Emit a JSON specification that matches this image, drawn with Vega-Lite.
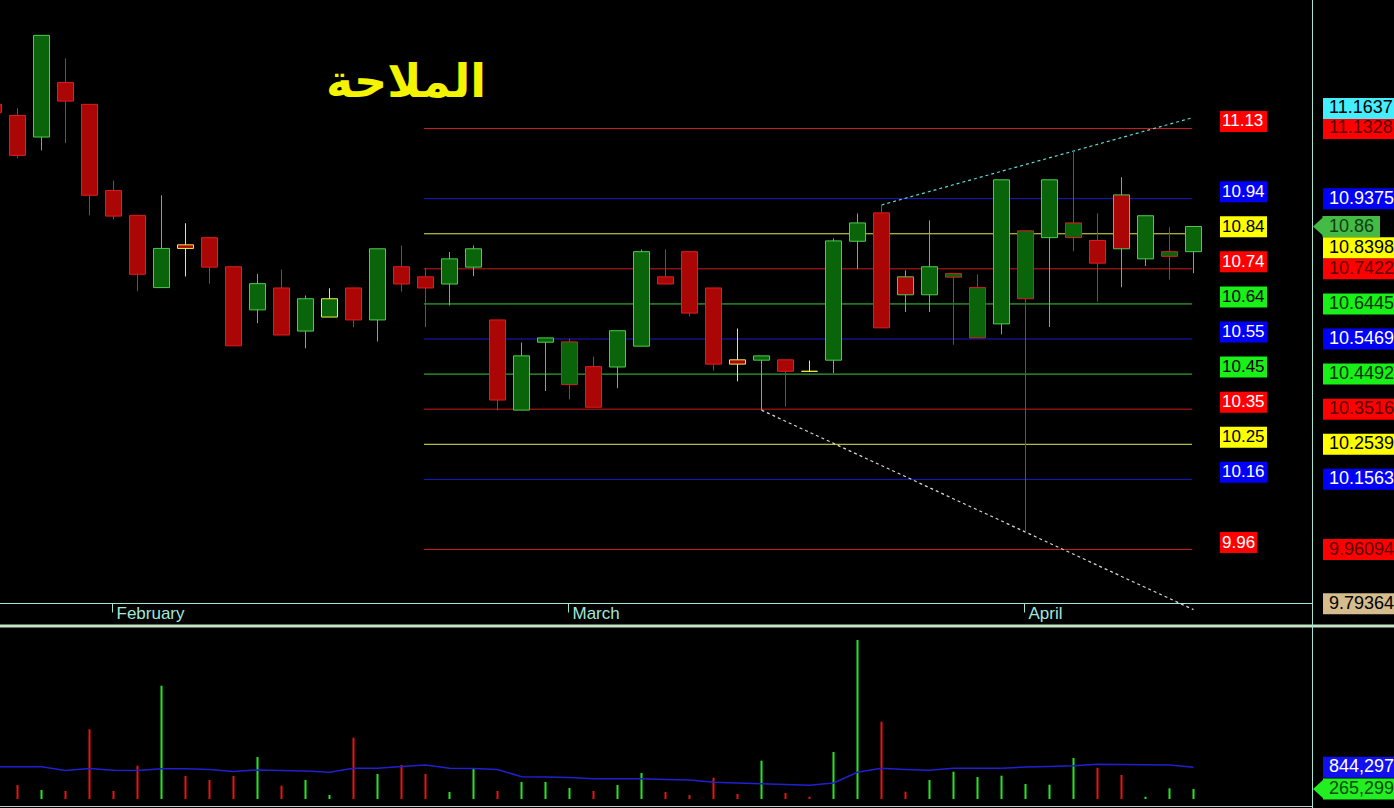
{
"$schema":"https://vega.github.io/schema/vega-lite/v6.json",
"width":1394,"height":808,
"autosize":{"type":"none"},
"padding":0,
"background":"#000000",
"config":{"view":{"stroke":null},"text":{"font":"Liberation Sans"},"scale":{"continuousPadding":0}},
"resolve":{"scale":{"y":"independent","color":"independent","fill":"independent","stroke":"independent"}},
"datasets":{
"one":[{}],
"candles":[
{"i":-1,"o":11.200,"h":11.215,"l":11.170,"c":11.177,"d":"down","e":"down","v":400000,"ma":857000},
{"i":0,"o":11.169,"h":11.189,"l":11.050,"c":11.058,"d":"down","e":"down","v":371000,"ma":857000},
{"i":1,"o":11.109,"h":11.392,"l":11.072,"c":11.392,"d":"up","e":"up","v":239000,"ma":857000},
{"i":2,"o":11.261,"h":11.328,"l":11.092,"c":11.209,"d":"down","e":"down","v":212000,"ma":756000},
{"i":3,"o":11.200,"h":11.200,"l":10.891,"c":10.947,"d":"down","e":"down","v":1849000,"ma":809000},
{"i":4,"o":10.960,"h":10.988,"l":10.880,"c":10.889,"d":"down","e":"down","v":212000,"ma":761000},
{"i":5,"o":10.891,"h":10.891,"l":10.680,"c":10.727,"d":"down","e":"down","v":884000,"ma":756000},
{"i":6,"o":10.690,"h":10.947,"l":10.690,"c":10.799,"d":"up","e":"up","v":3006000,"ma":804000},
{"i":7,"o":10.809,"h":10.869,"l":10.721,"c":10.799,"d":"down","e":"flat","v":610000,"ma":804000},
{"i":8,"o":10.829,"h":10.829,"l":10.701,"c":10.747,"d":"down","e":"down","v":504000,"ma":783000},
{"i":9,"o":10.748,"h":10.748,"l":10.528,"c":10.528,"d":"down","e":"down","v":610000,"ma":730000},
{"i":10,"o":10.628,"h":10.728,"l":10.591,"c":10.701,"d":"up","e":"up","v":1114000,"ma":769000},
{"i":11,"o":10.689,"h":10.740,"l":10.558,"c":10.558,"d":"down","e":"down","v":353000,"ma":756000},
{"i":12,"o":10.569,"h":10.668,"l":10.521,"c":10.659,"d":"up","e":"up","v":504000,"ma":743000},
{"i":13,"o":10.608,"h":10.688,"l":10.608,"c":10.659,"d":"up","e":"flat","v":106000,"ma":708000},
{"i":14,"o":10.689,"h":10.689,"l":10.580,"c":10.600,"d":"down","e":"down","v":1627000,"ma":814000},
{"i":15,"o":10.600,"h":10.798,"l":10.540,"c":10.798,"d":"up","e":"up","v":663000,"ma":814000},
{"i":16,"o":10.748,"h":10.807,"l":10.679,"c":10.700,"d":"down","e":"down","v":902000,"ma":862000},
{"i":17,"o":10.720,"h":10.745,"l":10.580,"c":10.689,"d":"down","e":"down","v":663000,"ma":902000},
{"i":18,"o":10.700,"h":10.789,"l":10.640,"c":10.770,"d":"up","e":"up","v":186000,"ma":814000},
{"i":19,"o":10.747,"h":10.807,"l":10.722,"c":10.798,"d":"up","e":"up","v":804000,"ma":809000},
{"i":20,"o":10.600,"h":10.600,"l":10.348,"c":10.377,"d":"down","e":"down","v":212000,"ma":783000},
{"i":21,"o":10.349,"h":10.537,"l":10.349,"c":10.500,"d":"up","e":"up","v":451000,"ma":592000},
{"i":22,"o":10.538,"h":10.550,"l":10.402,"c":10.550,"d":"up","e":"up","v":451000,"ma":584000},
{"i":23,"o":10.420,"h":10.548,"l":10.379,"c":10.539,"d":"up","e":"down","v":292000,"ma":570000},
{"i":24,"o":10.470,"h":10.498,"l":10.357,"c":10.357,"d":"down","e":"down","v":212000,"ma":539000},
{"i":25,"o":10.469,"h":10.570,"l":10.410,"c":10.570,"d":"up","e":"up","v":371000,"ma":539000},
{"i":26,"o":10.527,"h":10.796,"l":10.527,"c":10.790,"d":"up","e":"up","v":690000,"ma":539000},
{"i":27,"o":10.720,"h":10.796,"l":10.700,"c":10.700,"d":"down","e":"down","v":186000,"ma":517000},
{"i":28,"o":10.790,"h":10.790,"l":10.610,"c":10.619,"d":"down","e":"down","v":106000,"ma":504000},
{"i":29,"o":10.689,"h":10.689,"l":10.459,"c":10.477,"d":"down","e":"down","v":565000,"ma":443000},
{"i":30,"o":10.489,"h":10.576,"l":10.429,"c":10.477,"d":"down","e":"flat","v":133000,"ma":424000},
{"i":31,"o":10.488,"h":10.500,"l":10.349,"c":10.500,"d":"up","e":"up","v":1016000,"ma":406000},
{"i":32,"o":10.489,"h":10.489,"l":10.359,"c":10.457,"d":"down","e":"down","v":159000,"ma":385000},
{"i":33,"o":10.457,"h":10.487,"l":10.457,"c":10.457,"d":"down","e":"flat","v":61000,"ma":363000},
{"i":34,"o":10.488,"h":10.827,"l":10.452,"c":10.820,"d":"up","e":"up","v":1247000,"ma":424000},
{"i":35,"o":10.819,"h":10.896,"l":10.742,"c":10.870,"d":"up","e":"up","v":4218000,"ma":708000},
{"i":36,"o":10.898,"h":10.920,"l":10.578,"c":10.578,"d":"down","e":"down","v":2051000,"ma":814000},
{"i":37,"o":10.720,"h":10.738,"l":10.622,"c":10.670,"d":"down","e":"up","v":194000,"ma":783000},
{"i":38,"o":10.670,"h":10.877,"l":10.622,"c":10.748,"d":"up","e":"up","v":504000,"ma":761000},
{"i":39,"o":10.719,"h":10.729,"l":10.531,"c":10.729,"d":"up","e":"down","v":724000,"ma":814000},
{"i":40,"o":10.550,"h":10.727,"l":10.550,"c":10.690,"d":"up","e":"down","v":584000,"ma":814000},
{"i":41,"o":10.589,"h":10.990,"l":10.560,"c":10.990,"d":"up","e":"up","v":618000,"ma":814000},
{"i":42,"o":10.659,"h":10.848,"l":10.009,"c":10.848,"d":"up","e":"down","v":398000,"ma":849000},
{"i":43,"o":10.829,"h":10.990,"l":10.580,"c":10.990,"d":"up","e":"up","v":379000,"ma":862000},
{"i":44,"o":10.829,"h":11.072,"l":10.791,"c":10.870,"d":"up","e":"down","v":1088000,"ma":883000},
{"i":45,"o":10.821,"h":10.897,"l":10.651,"c":10.758,"d":"down","e":"down","v":830000,"ma":921000},
{"i":46,"o":10.948,"h":10.997,"l":10.691,"c":10.798,"d":"down","e":"up","v":637000,"ma":915000},
{"i":47,"o":10.770,"h":10.890,"l":10.750,"c":10.890,"d":"up","e":"up","v":61000,"ma":910000},
{"i":48,"o":10.777,"h":10.858,"l":10.712,"c":10.790,"d":"up","e":"down","v":284000,"ma":902000},
{"i":49,"o":10.790,"h":10.860,"l":10.730,"c":10.860,"d":"up","e":"up","v":265299,"ma":844297}
],
"levels":[
{"p":11.1328,"k":"red"},{"p":10.9375,"k":"blue"},{"p":10.8398,"k":"yellow"},{"p":10.7422,"k":"red"},
{"p":10.6445,"k":"green"},{"p":10.5469,"k":"blue"},{"p":10.4492,"k":"green"},{"p":10.3516,"k":"red"},
{"p":10.2539,"k":"yellow"},{"p":10.1563,"k":"blue"},{"p":9.96094,"k":"red"}
],
"rl":[
{"p":11.1637,"t":"11.1637","k":"cyan"},{"p":11.1328,"t":"11.1328","k":"red"},{"p":10.9375,"t":"10.9375","k":"blue"},
{"p":10.8398,"t":"10.8398","k":"yellow"},{"p":10.7422,"t":"10.7422","k":"red"},{"p":10.6445,"t":"10.6445","k":"green"},
{"p":10.5469,"t":"10.5469","k":"blue"},{"p":10.4492,"t":"10.4492","k":"green"},{"p":10.3516,"t":"10.3516","k":"red"},
{"p":10.2539,"t":"10.2539","k":"yellow"},{"p":10.1563,"t":"10.1563","k":"blue"},{"p":9.96094,"t":"9.96094","k":"red"},
{"p":9.79364,"t":"9.79364","k":"tan"}
],
"trend":[
{"g":"up","i":36,"p":10.920},{"g":"up","i":49,"p":11.1637},
{"g":"dn","i":31,"p":10.349},{"g":"dn","i":49,"p":9.79364}
],
"months":[{"m":3.958,"t":"February"},{"m":22.958,"t":"March"},{"m":41.958,"t":"April"}]
},
"layer":[
{"data":{"name":"levels"},"mark":{"type":"rule","strokeWidth":1},
 "encoding":{"x":{"datum":16.9375,"type":"quantitative","scale":{"domain":[-0.72917,57.35417],"nice":false,"zero":false,"padding":0},"axis":null},"x2":{"datum":48.9375},
 "y":{"field":"p","type":"quantitative","scale":{"domain":[9.24162,11.49044],"nice":false,"zero":false},"axis":null},
 "color":{"field":"k","type":"nominal","scale":{"domain":["red","blue","yellow","green"],"range":["#cc1c1c","#1c1cc8","#e8e84c","#3ccc3c"]},"legend":null}}},
{"data":{"name":"trend"},"mark":{"type":"line","strokeWidth":1.2,"strokeDash":[3,3]},
 "encoding":{"x":{"field":"i","type":"quantitative","scale":{"domain":[-0.72917,57.35417],"nice":false,"zero":false,"padding":0},"axis":null},
 "y":{"field":"p","type":"quantitative","scale":{"domain":[9.24162,11.49044],"nice":false,"zero":false},"axis":null},
 "color":{"field":"g","type":"nominal","scale":{"domain":["up","dn"],"range":["#5fd8d8","#d8d8d8"]},"legend":null}}},
{"data":{"name":"candles"},"mark":{"type":"rule","strokeWidth":1},
 "encoding":{"x":{"field":"i","type":"quantitative","scale":{"domain":[-0.72917,57.35417],"nice":false,"zero":false,"padding":0},"axis":null},
 "y":{"field":"l","type":"quantitative","scale":{"domain":[9.24162,11.49044],"nice":false,"zero":false},"axis":null},"y2":{"field":"h"},
 "color":{"field":"e","type":"nominal","scale":{"domain":["up","down","flat"],"range":["#4ccc4c","#e01c1c","#f0f03c"]},"legend":null}}},
{"data":{"name":"candles"},"mark":{"type":"bar","size":16,"strokeWidth":1,"orient":"vertical"},
 "encoding":{"x":{"field":"i","type":"quantitative","scale":{"domain":[-0.72917,57.35417],"nice":false,"zero":false,"padding":0},"axis":null},
 "y":{"field":"o","type":"quantitative","scale":{"domain":[9.24162,11.49044],"nice":false,"zero":false,"padding":0},"axis":null},"y2":{"field":"c"},
 "fill":{"field":"d","type":"nominal","scale":{"domain":["up","down"],"range":["#0a640a","#aa0606"]},"legend":null},
 "stroke":{"field":"e","type":"nominal","scale":{"domain":["up","down","flat"],"range":["#4ccc4c","#e01c1c","#f0f03c"]},"legend":null}}},
{"data":{"name":"candles"},"mark":{"type":"rule","strokeWidth":2},
 "encoding":{"x":{"field":"i","type":"quantitative","scale":{"domain":[-0.72917,57.35417],"nice":false,"zero":false,"padding":0},"axis":null},
 "y":{"field":"v","type":"quantitative","scale":{"domain":[-238770,21197470],"nice":false,"zero":false},"axis":null},"y2":{"datum":0},
 "color":{"field":"d","type":"nominal","scale":{"domain":["up","down"],"range":["#22e822","#e81414"]},"legend":null}}},
{"data":{"name":"candles"},"mark":{"type":"line","color":"#2020d0","strokeWidth":1.5},
 "encoding":{"x":{"field":"i","type":"quantitative","scale":{"domain":[-0.72917,57.35417],"nice":false,"zero":false,"padding":0},"axis":null},
 "y":{"field":"ma","type":"quantitative","scale":{"domain":[-238770,21197470],"nice":false,"zero":false},"axis":null}}},
{"data":{"name":"levels"},"transform":[{"filter":"datum.p > 10"}],"mark":{"type":"rect","yOffset":-17.5,"y2Offset":3.5},
 "encoding":{"x":{"datum":50.104,"type":"quantitative","scale":{"domain":[-0.72917,57.35417],"nice":false,"zero":false,"padding":0},"axis":null},"x2":{"datum":52.063},
 "y":{"field":"p","type":"quantitative","scale":{"domain":[9.24162,11.49044],"nice":false,"zero":false,"padding":0},"axis":null},"y2":{"field":"p"},
 "color":{"field":"k","type":"nominal","scale":{"domain":["red","blue","yellow","green"],"range":["#ff0000","#0000f8","#ffff00","#18f018"]},"legend":null}}},
{"data":{"name":"levels"},"transform":[{"filter":"datum.p < 10"}],"mark":{"type":"rect","yOffset":-17.5,"y2Offset":3.5},
 "encoding":{"x":{"datum":50.104,"type":"quantitative","scale":{"domain":[-0.72917,57.35417],"nice":false,"zero":false,"padding":0},"axis":null},"x2":{"datum":51.646},
 "y":{"field":"p","type":"quantitative","scale":{"domain":[9.24162,11.49044],"nice":false,"zero":false,"padding":0},"axis":null},"y2":{"field":"p"},
 "color":{"field":"k","type":"nominal","scale":{"domain":["red","blue","yellow","green"],"range":["#ff0000","#0000f8","#ffff00","#18f018"]},"legend":null}}},
{"data":{"name":"levels"},"mark":{"type":"text","align":"left","baseline":"middle","dy":-7,"fontSize":17},
 "encoding":{"x":{"datum":50.188,"type":"quantitative","scale":{"domain":[-0.72917,57.35417],"nice":false,"zero":false,"padding":0},"axis":null},
 "y":{"field":"p","type":"quantitative","scale":{"domain":[9.24162,11.49044],"nice":false,"zero":false},"axis":null},
 "text":{"field":"p","type":"quantitative","format":".2f"},
 "color":{"field":"k","type":"nominal","scale":{"domain":["red","blue","yellow","green"],"range":["#ffffff","#ffffff","#000000","#000000"]},"legend":null}}},
{"data":{"name":"rl"},"transform":[{"filter":"datum.t != '11.1637' && datum.t != '10.8398' && datum.t != '9.79364'"}],"mark":{"type":"rect","yOffset":-10.5,"y2Offset":10.5},
 "encoding":{"x":{"datum":54.396,"type":"quantitative","scale":{"domain":[-0.72917,57.35417],"nice":false,"zero":false,"padding":0},"axis":null},"x2":{"datum":57.5},
 "y":{"field":"p","type":"quantitative","scale":{"domain":[9.24162,11.49044],"nice":false,"zero":false,"padding":0},"axis":null},"y2":{"field":"p"},
 "color":{"field":"k","type":"nominal","scale":{"domain":["red","blue","yellow","green","cyan","tan"],"range":["#ff0000","#0000f8","#ffff00","#18f018","#44eeff","#d4bc8c"]},"legend":null}}},
{"data":{"name":"rl"},"transform":[{"filter":"datum.t != '11.1637' && datum.t != '10.8398' && datum.t != '9.79364'"}],"mark":{"type":"text","align":"left","baseline":"middle","fontSize":18},
 "encoding":{"x":{"datum":54.646,"type":"quantitative","scale":{"domain":[-0.72917,57.35417],"nice":false,"zero":false,"padding":0},"axis":null},
 "y":{"field":"p","type":"quantitative","scale":{"domain":[9.24162,11.49044],"nice":false,"zero":false},"axis":null},
 "text":{"field":"t","type":"nominal"},
 "color":{"field":"k","type":"nominal","scale":{"domain":["red","blue","yellow","green","cyan","tan"],"range":["#5a0000","#ffffff","#000000","#003000","#000000","#000000"]},"legend":null}}},
{"data":{"name":"rl"},"transform":[{"filter":"datum.t == '11.1637'"}],"mark":{"type":"rect","yOffset":-19.5,"y2Offset":1.5,"color":"#44eeff"},
 "encoding":{"x":{"datum":54.396,"type":"quantitative","scale":{"domain":[-0.72917,57.35417],"nice":false,"zero":false,"padding":0},"axis":null},"x2":{"datum":57.5},
 "y":{"field":"p","type":"quantitative","scale":{"domain":[9.24162,11.49044],"nice":false,"zero":false,"padding":0},"axis":null},"y2":{"field":"p"}}},
{"data":{"name":"rl"},"transform":[{"filter":"datum.t == '11.1637'"}],"mark":{"type":"text","align":"left","baseline":"middle","fontSize":18,"dy":-9,"color":"#000000"},
 "encoding":{"x":{"datum":54.646,"type":"quantitative","scale":{"domain":[-0.72917,57.35417],"nice":false,"zero":false,"padding":0},"axis":null},
 "y":{"field":"p","type":"quantitative","scale":{"domain":[9.24162,11.49044],"nice":false,"zero":false},"axis":null},
 "text":{"field":"t","type":"nominal"}}},
{"data":{"name":"rl"},"transform":[{"filter":"datum.t == '10.8398'"}],"mark":{"type":"rect","yOffset":3.5,"y2Offset":24.5,"color":"#ffff00"},
 "encoding":{"x":{"datum":54.396,"type":"quantitative","scale":{"domain":[-0.72917,57.35417],"nice":false,"zero":false,"padding":0},"axis":null},"x2":{"datum":57.5},
 "y":{"field":"p","type":"quantitative","scale":{"domain":[9.24162,11.49044],"nice":false,"zero":false,"padding":0},"axis":null},"y2":{"field":"p"}}},
{"data":{"name":"rl"},"transform":[{"filter":"datum.t == '10.8398'"}],"mark":{"type":"text","align":"left","baseline":"middle","fontSize":18,"dy":14,"color":"#000000"},
 "encoding":{"x":{"datum":54.646,"type":"quantitative","scale":{"domain":[-0.72917,57.35417],"nice":false,"zero":false,"padding":0},"axis":null},
 "y":{"field":"p","type":"quantitative","scale":{"domain":[9.24162,11.49044],"nice":false,"zero":false},"axis":null},
 "text":{"field":"t","type":"nominal"}}},
{"data":{"name":"rl"},"transform":[{"filter":"datum.t == '9.79364'"}],"mark":{"type":"rect","yOffset":-16.5,"y2Offset":4.5,"color":"#d4bc8c"},
 "encoding":{"x":{"datum":54.396,"type":"quantitative","scale":{"domain":[-0.72917,57.35417],"nice":false,"zero":false,"padding":0},"axis":null},"x2":{"datum":57.5},
 "y":{"field":"p","type":"quantitative","scale":{"domain":[9.24162,11.49044],"nice":false,"zero":false,"padding":0},"axis":null},"y2":{"field":"p"}}},
{"data":{"name":"rl"},"transform":[{"filter":"datum.t == '9.79364'"}],"mark":{"type":"text","align":"left","baseline":"middle","fontSize":18,"dy":-6,"color":"#000000"},
 "encoding":{"x":{"datum":54.646,"type":"quantitative","scale":{"domain":[-0.72917,57.35417],"nice":false,"zero":false,"padding":0},"axis":null},
 "y":{"field":"p","type":"quantitative","scale":{"domain":[9.24162,11.49044],"nice":false,"zero":false},"axis":null},
 "text":{"field":"t","type":"nominal"}}},
{"data":{"name":"one"},"mark":{"type":"rect","yOffset":-10.5,"y2Offset":10.5,"color":"#44bb44"},
 "encoding":{"x":{"datum":54.375,"type":"quantitative","scale":{"domain":[-0.72917,57.35417],"nice":false,"zero":false,"padding":0},"axis":null},"x2":{"datum":56.771},
 "y":{"datum":10.86,"type":"quantitative","scale":{"domain":[9.24162,11.49044],"nice":false,"zero":false,"padding":0},"axis":null},"y2":{"datum":10.86}}},
{"data":{"name":"one"},"mark":{"type":"point","shape":"M-0.5,0L0.6,-1L0.6,1Z","size":441,"filled":true,"opacity":1,"strokeWidth":0,"color":"#44bb44"},
 "encoding":{"x":{"datum":54.198,"type":"quantitative","scale":{"domain":[-0.72917,57.35417],"nice":false,"zero":false,"padding":0},"axis":null},
 "y":{"datum":10.86,"type":"quantitative","scale":{"domain":[9.24162,11.49044],"nice":false,"zero":false},"axis":null}}},
{"data":{"name":"one"},"mark":{"type":"text","text":"10.86","align":"left","baseline":"middle","fontSize":18,"color":"#123c12"},
 "encoding":{"x":{"datum":54.646,"type":"quantitative","scale":{"domain":[-0.72917,57.35417],"nice":false,"zero":false,"padding":0},"axis":null},
 "y":{"datum":10.86,"type":"quantitative","scale":{"domain":[9.24162,11.49044],"nice":false,"zero":false},"axis":null}}},
{"data":{"name":"one"},"mark":{"type":"rect","yOffset":-10.5,"y2Offset":10.5,"color":"#1010f0"},
 "encoding":{"x":{"datum":54.396,"type":"quantitative","scale":{"domain":[-0.72917,57.35417],"nice":false,"zero":false,"padding":0},"axis":null},"x2":{"datum":57.5},
 "y":{"datum":844297,"type":"quantitative","scale":{"domain":[-238770,21197470],"nice":false,"zero":false,"padding":0},"axis":null},"y2":{"datum":844297}}},
{"data":{"name":"one"},"mark":{"type":"text","text":"844,297","align":"left","baseline":"middle","fontSize":18,"color":"#ffffff"},
 "encoding":{"x":{"datum":54.646,"type":"quantitative","scale":{"domain":[-0.72917,57.35417],"nice":false,"zero":false,"padding":0},"axis":null},
 "y":{"datum":844297,"type":"quantitative","scale":{"domain":[-238770,21197470],"nice":false,"zero":false},"axis":null}}},
{"data":{"name":"one"},"mark":{"type":"rect","yOffset":-10.5,"y2Offset":10.5,"color":"#22ee22"},
 "encoding":{"x":{"datum":54.396,"type":"quantitative","scale":{"domain":[-0.72917,57.35417],"nice":false,"zero":false,"padding":0},"axis":null},"x2":{"datum":57.5},
 "y":{"datum":265299,"type":"quantitative","scale":{"domain":[-238770,21197470],"nice":false,"zero":false,"padding":0},"axis":null},"y2":{"datum":265299}}},
{"data":{"name":"one"},"mark":{"type":"point","shape":"M-0.5,0L0.6,-1L0.6,1Z","size":441,"filled":true,"opacity":1,"strokeWidth":0,"color":"#22ee22"},
 "encoding":{"x":{"datum":54.198,"type":"quantitative","scale":{"domain":[-0.72917,57.35417],"nice":false,"zero":false,"padding":0},"axis":null},
 "y":{"datum":265299,"type":"quantitative","scale":{"domain":[-238770,21197470],"nice":false,"zero":false},"axis":null}}},
{"data":{"name":"one"},"mark":{"type":"text","text":"265,299","align":"left","baseline":"middle","fontSize":18,"color":"#0a4a0a"},
 "encoding":{"x":{"datum":54.646,"type":"quantitative","scale":{"domain":[-0.72917,57.35417],"nice":false,"zero":false,"padding":0},"axis":null},
 "y":{"datum":265299,"type":"quantitative","scale":{"domain":[-238770,21197470],"nice":false,"zero":false},"axis":null}}},
{"data":{"name":"one"},"mark":{"type":"rule","color":"#a4e6d6","strokeWidth":1},
 "encoding":{"x":{"datum":-0.72917,"type":"quantitative","scale":{"domain":[-0.72917,57.35417],"nice":false,"zero":false,"padding":0},"axis":null},"x2":{"datum":53.958},
 "y":{"datum":9.8108,"type":"quantitative","scale":{"domain":[9.24162,11.49044],"nice":false,"zero":false},"axis":null}}},
{"data":{"name":"one"},"mark":{"type":"rule","color":"#c4e4c4","strokeWidth":3},
 "encoding":{"x":{"datum":-0.72917,"type":"quantitative","scale":{"domain":[-0.72917,57.35417],"nice":false,"zero":false,"padding":0},"axis":null},"x2":{"datum":57.35417},
 "y":{"datum":9.74817,"type":"quantitative","scale":{"domain":[9.24162,11.49044],"nice":false,"zero":false},"axis":null}}},
{"data":{"name":"one"},"mark":{"type":"rule","color":"#c8c8c8","strokeWidth":1},
 "encoding":{"x":{"datum":-0.72917,"type":"quantitative","scale":{"domain":[-0.72917,57.35417],"nice":false,"zero":false,"padding":0},"axis":null},"x2":{"datum":53.958},
 "y":{"datum":9.24579,"type":"quantitative","scale":{"domain":[9.24162,11.49044],"nice":false,"zero":false},"axis":null}}},
{"data":{"name":"one"},"mark":{"type":"rule","color":"#a4e6d6","strokeWidth":1},
 "encoding":{"x":{"datum":53.958,"type":"quantitative","scale":{"domain":[-0.72917,57.35417],"nice":false,"zero":false,"padding":0},"axis":null},
 "y":{"datum":11.49044,"type":"quantitative","scale":{"domain":[9.24162,11.49044],"nice":false,"zero":false},"axis":null},"y2":{"datum":9.24162}}},
{"data":{"name":"months"},"mark":{"type":"rule","color":"#a4e6d6","strokeWidth":1},
 "encoding":{"x":{"field":"m","type":"quantitative","scale":{"domain":[-0.72917,57.35417],"nice":false,"zero":false,"padding":0},"axis":null},
 "y":{"datum":9.8108,"type":"quantitative","scale":{"domain":[9.24162,11.49044],"nice":false,"zero":false},"axis":null},"y2":{"datum":9.7858}}},
{"data":{"name":"months"},"mark":{"type":"text","align":"left","baseline":"alphabetic","dx":4,"fontSize":17,"color":"#a4e6d6"},
 "encoding":{"x":{"field":"m","type":"quantitative","scale":{"domain":[-0.72917,57.35417],"nice":false,"zero":false,"padding":0},"axis":null},
 "y":{"datum":9.76766,"type":"quantitative","scale":{"domain":[9.24162,11.49044],"nice":false,"zero":false},"axis":null},
 "text":{"field":"t","type":"nominal"}}},
{"data":{"name":"one"},"mark":{"type":"text","text":"الملاحة","align":"center","baseline":"alphabetic","font":"DejaVu Sans","fontSize":46,"fontWeight":"bold","color":"#f4f400"},
 "encoding":{"x":{"datum":16.188,"type":"quantitative","scale":{"domain":[-0.72917,57.35417],"nice":false,"zero":false,"padding":0},"axis":null},
 "y":{"datum":11.22047,"type":"quantitative","scale":{"domain":[9.24162,11.49044],"nice":false,"zero":false},"axis":null}}}
]
}
